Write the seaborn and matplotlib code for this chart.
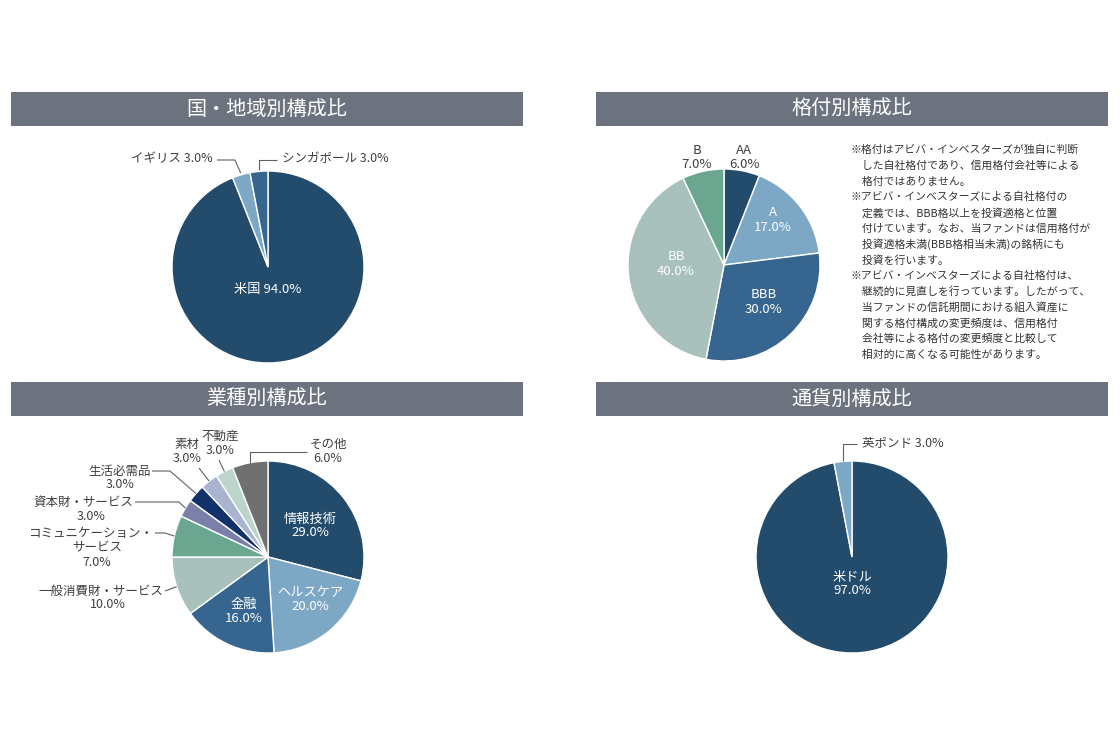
import numpy as np
import matplotlib
matplotlib.use("Agg")
import matplotlib.pyplot as plt
from matplotlib.patches import Rectangle
import seaborn as sns

# ---------------- data ----------------
country_labels = ["米国", "イギリス", "シンガポール"]
country_values = [94.0, 3.0, 3.0]

rating_labels = ["AA", "A", "BBB", "BB", "B"]
rating_values = [6.0, 17.0, 30.0, 40.0, 7.0]

sector_labels = ["情報技術", "ヘルスケア", "金融", "一般消費財・サービス",
                 "コミュニケーション・サービス", "資本財・サービス", "生活必需品",
                 "素材", "不動産", "その他"]
sector_values = [29.0, 20.0, 16.0, 10.0, 7.0, 3.0, 3.0, 3.0, 3.0, 6.0]

currency_labels = ["米ドル", "英ポンド"]
currency_values = [97.0, 3.0]

titles = ["国・地域別構成比", "格付別構成比", "業種別構成比", "通貨別構成比"]

notes = [
    "※格付はアビバ・インベスターズが独自に判断",
    "　した自社格付であり、信用格付会社等による",
    "　格付ではありません。",
    "※アビバ・インベスターズによる自社格付の",
    "　定義では、BBB格以上を投資適格と位置",
    "　付けています。なお、当ファンドは信用格付が",
    "　投資適格未満(BBB格相当未満)の銘柄にも",
    "　投資を行います。",
    "※アビバ・インベスターズによる自社格付は、",
    "　継続的に見直しを行っています。したがって、",
    "　当ファンドの信託期間における組入資産に",
    "　関する格付構成の変更頻度は、信用格付",
    "　会社等による格付の変更頻度と比較して",
    "　相対的に高くなる可能性があります。",
]

# ---------------- style ----------------
sns.set_theme(style="white")
plt.rcParams["font.family"] = ["Noto Sans CJK JP", "DejaVu Sans"]

NAVY = "#234b6b"
LBLUE = "#7ca8c6"
MBLUE = "#36658f"
GGREEN = "#a9c1bc"
GREEN = "#6ba690"
PURPLE = "#7a80a9"
DNAVY = "#12316b"
LAV = "#a9b5d0"
PGREEN = "#bdd4cb"
GRAY = "#707070"
BAR = "#6c737e"
TXT = "#404040"
LINE = "#606060"

country_colors = sns.color_palette([NAVY, LBLUE, MBLUE])
rating_colors = sns.color_palette([NAVY, LBLUE, MBLUE, GGREEN, GREEN])
sector_colors = sns.color_palette([NAVY, LBLUE, MBLUE, GGREEN, GREEN,
                                   PURPLE, DNAVY, LAV, PGREEN, GRAY])
currency_colors = sns.color_palette([NAVY, LBLUE])

W, H = 1120, 750
fig = plt.figure(figsize=(W / 100, H / 100), dpi=100)
fig.patch.set_facecolor("white")

R = 96.0      # pie radius in px
HALF = 200.0  # half-size of pie axes in px


def pie_axes(cx, cy):
    ax = fig.add_axes([(cx - HALF) / W, 1 - (cy + HALF) / H, 2 * HALF / W, 2 * HALF / H])
    return ax


# overlay axes in pixel coordinates (on top of pies)
ov = fig.add_axes([0, 0, 1, 1])
ov.set_xlim(0, W)
ov.set_ylim(H, 0)
ov.axis("off")
ov.set_zorder(10)
ov.patch.set_alpha(0)


def txt(x, y, s, size=9, color=TXT, ha="center"):
    ov.text(x, y, s, fontsize=size, color=color, ha=ha, va="center")


def edge_point(cx, cy, values, i, rfac=1.0):
    tot = sum(values)
    a = 360.0 * (sum(values[:i]) + values[i] / 2.0) / tot
    ar = np.radians(a)
    return cx + R * rfac * np.sin(ar), cy - R * rfac * np.cos(ar)


def leader(points):
    xs, ys = zip(*points)
    ov.plot(xs, ys, color=LINE, lw=0.8, solid_capstyle="butt")


def draw_pie(cx, cy, values, colors):
    ax = pie_axes(cx, cy)
    ax.pie(values, colors=colors, startangle=90, counterclock=False, radius=1,
           wedgeprops=dict(edgecolor="white", linewidth=1.0))
    lim = HALF / R
    ax.set_xlim(-lim, lim)
    ax.set_ylim(-lim, lim)
    ax.set_aspect("equal")
    ax.axis("off")
    return ax


# ---------------- title bars ----------------
bars = [(11, 92), (596, 92), (11, 382), (596, 382)]
for (x0, y0), t in zip(bars, titles):
    ov.add_patch(Rectangle((x0, y0), 512, 34, facecolor=BAR, edgecolor="none"))
    ov.text(x0 + 256, y0 + 17.5, t, fontsize=14.5, color="white", ha="center", va="center")

# ---------------- country pie ----------------
cx, cy = 268, 267
draw_pie(cx, cy, country_values, country_colors)
txt(cx, 289, f"{country_labels[0]} {country_values[0]:.1f}%", size=9.5, color="white")
txt(213, 159, f"{country_labels[1]} {country_values[1]:.1f}%", ha="right")
ex, ey = edge_point(cx, cy, country_values, 1, 1.02)
leader([(217, 160), (235, 160), (ex, ey)])
txt(282, 159, f"{country_labels[2]} {country_values[2]:.1f}%", ha="left")
ex, ey = edge_point(cx, cy, country_values, 2, 1.02)
leader([(ex, ey), (ex, 160), (277, 160)])

# ---------------- rating pie ----------------
cx, cy = 724, 265
draw_pie(cx, cy, rating_values, rating_colors)
rating_pos = [(744, 150, TXT), (773, 213, "white"), (764, 295, "white"),
              (676, 257, "white"), (697, 150, TXT)]
for lab, v, (x, y, c) in zip(rating_labels, rating_values, rating_pos):
    txt(x, y, lab, size=9.5, color=c)
    txt(x, y + 14.5, f"{v:.1f}%", size=9.5, color=c)

for k, line in enumerate(notes):
    ov.text(851, 150 + k * 15.75, line, fontsize=7.8, color="#333333",
            ha="left", va="center")

# ---------------- sector pie ----------------
cx, cy = 268, 557
draw_pie(cx, cy, sector_values, sector_colors)
# inside labels
txt(310, 519, sector_labels[0], size=9.5, color="white")
txt(310, 533, f"{sector_values[0]:.1f}%", size=9.5, color="white")
txt(310, 593, sector_labels[1], size=9.5, color="white")
txt(310, 607, f"{sector_values[1]:.1f}%", size=9.5, color="white")
txt(244, 604, sector_labels[2], size=9.5, color="white")
txt(244, 618, f"{sector_values[2]:.1f}%", size=9.5, color="white")

# 一般消費財・サービス
txt(163, 591, sector_labels[3], ha="right")
txt(108, 605, f"{sector_values[3]:.1f}%")
ex, ey = edge_point(cx, cy, sector_values, 3, 1.0)
leader([(165, 591), (ex, ey)])

# コミュニケーション・サービス
txt(153, 533, "コミュニケーション・", ha="right")
txt(97, 548, "サービス")
txt(97, 563, f"{sector_values[4]:.1f}%")
ex, ey = edge_point(cx, cy, sector_values, 4, 1.0)
leader([(155, 533), (165, 533), (ex, ey)])

# 資本財・サービス
txt(133, 502, sector_labels[5], ha="right")
txt(91, 517, f"{sector_values[5]:.1f}%")
ex, ey = edge_point(cx, cy, sector_values, 5, 1.0)
leader([(135, 502), (179, 502), (ex, ey)])

# 生活必需品
txt(120, 471, sector_labels[6])
txt(120, 484, f"{sector_values[6]:.1f}%")
ex, ey = edge_point(cx, cy, sector_values, 6, 1.0)
leader([(152, 471), (170, 471), (ex, ey)])

# 素材
txt(187, 444, sector_labels[7])
txt(187, 459, f"{sector_values[7]:.1f}%")
ex, ey = edge_point(cx, cy, sector_values, 7, 1.0)
leader([(199, 468), (ex, ey)])

# 不動産
txt(220, 436, sector_labels[8])
txt(220, 450, f"{sector_values[8]:.1f}%")
ex, ey = edge_point(cx, cy, sector_values, 8, 1.0)
leader([(219, 460), (ex, ey)])

# その他
txt(328, 444, sector_labels[9])
txt(328, 459, f"{sector_values[9]:.1f}%")
ex, ey = edge_point(cx, cy, sector_values, 9, 1.0)
leader([(ex, ey), (ex, 452), (307, 452)])

# ---------------- currency pie ----------------
cx, cy = 852, 557
draw_pie(cx, cy, currency_values, currency_colors)
txt(cx, 577, currency_labels[0], size=9.5, color="white")
txt(cx, 591, f"{currency_values[0]:.1f}%", size=9.5, color="white")
txt(862, 444, f"{currency_labels[1]} {currency_values[1]:.1f}%", ha="left")
ex, ey = edge_point(cx, cy, currency_values, 1, 1.0)
leader([(ex, ey), (ex, 444), (857, 444)])

fig.savefig("out.png", dpi=100, facecolor="white")
